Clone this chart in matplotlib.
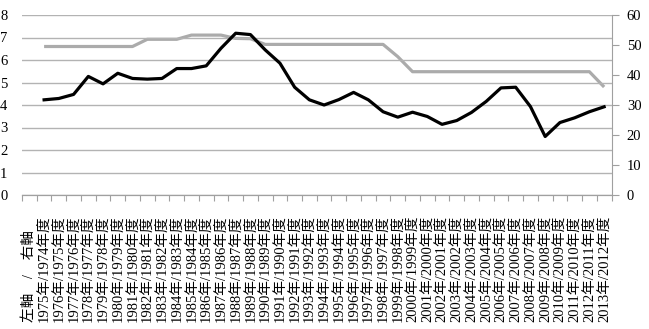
import numpy as np
import matplotlib
matplotlib.use("Agg")
import matplotlib.pyplot as plt
import matplotlib.transforms as mtransforms
from matplotlib.ticker import MultipleLocator, FixedLocator

plt.rcParams['font.family'] = ['Liberation Serif', 'Noto Sans CJK JP']

# カテゴリ (先頭は軸の説明)
nen = list(range(1975, 2014))
labels = ['左軸　/　右軸'] + ['%d年/%d年度' % (y, y - 1) for y in nen]

# 左軸 (黒線)
hidari = [4.23, 4.29, 4.47, 5.27, 4.94, 5.41, 5.18, 5.15, 5.18, 5.62,
          5.62, 5.74, 6.52, 7.19, 7.13, 6.45, 5.86, 4.79, 4.23, 4.00,
          4.24, 4.56, 4.23, 3.70, 3.46, 3.68, 3.49, 3.14, 3.31, 3.67,
          4.16, 4.76, 4.79, 3.93, 2.60, 3.22, 3.43, 3.70, 3.92]

# 右軸 (灰色線)
migi = [49.5, 49.5, 49.5, 49.5, 49.5, 49.5, 49.5, 51.9, 51.9, 51.9,
        53.3, 53.3, 53.3, 52.2, 52.1, 50.2, 50.2, 50.2, 50.2, 50.2,
        50.2, 50.2, 50.2, 50.2, 46.1, 41.1, 41.1, 41.1, 41.1, 41.1,
        41.1, 41.1, 41.1, 41.1, 41.1, 41.1, 41.1, 41.1, 36.0]

x = np.arange(1, len(nen) + 1)

fig = plt.figure(figsize=(6.49, 3.29), dpi=100)
ax = fig.add_axes([22/649, 134/329, 589.5/649, 180/329])
ax2 = ax.twinx()

ax2.plot(x, migi, color='#ababab', lw=2.3, solid_capstyle='butt')
ax.plot(x, hidari, color='black', lw=2.3, solid_joinstyle='round')

# 黒線を前面に
ax.set_zorder(ax2.get_zorder() + 1)
ax.patch.set_visible(False)

ax.set_xlim(-0.5, len(labels) - 0.5)
ax.set_ylim(0, 8)
ax2.set_ylim(0, 60)

ax.yaxis.set_major_locator(MultipleLocator(1))
ax2.yaxis.set_major_locator(MultipleLocator(10))
ax.grid(axis='y', color='#b3b3b3', lw=1.0)
ax.set_axisbelow(True)

# x軸ラベル: 下端をそろえて縦書き
ax.set_xticks([])
ax.xaxis.set_minor_locator(FixedLocator(np.arange(-0.5, len(labels), 1)))
ax.tick_params(axis='x', which='minor', length=4, color='#a0a0a0', width=0.8)
trans = mtransforms.blended_transform_factory(ax.transData, fig.transFigure)
for i, lab in enumerate(labels):
    ax.text(i, 7/329, lab, transform=trans, rotation=90, ha='center',
            va='bottom', fontsize=10.5)

ax.tick_params(axis='y', length=0, pad=10.5, labelsize=10.5)
ax2.tick_params(axis='y', length=5, color='#a0a0a0', width=0.8, pad=6, labelsize=10.5)

for a in (ax, ax2):
    for s in ('top', 'left'):
        a.spines[s].set_visible(False)
    a.spines['bottom'].set_color('#a0a0a0')
    a.spines['right'].set_color('#a0a0a0')
ax.spines['right'].set_visible(False)

fig.savefig('out.png', dpi=100)
